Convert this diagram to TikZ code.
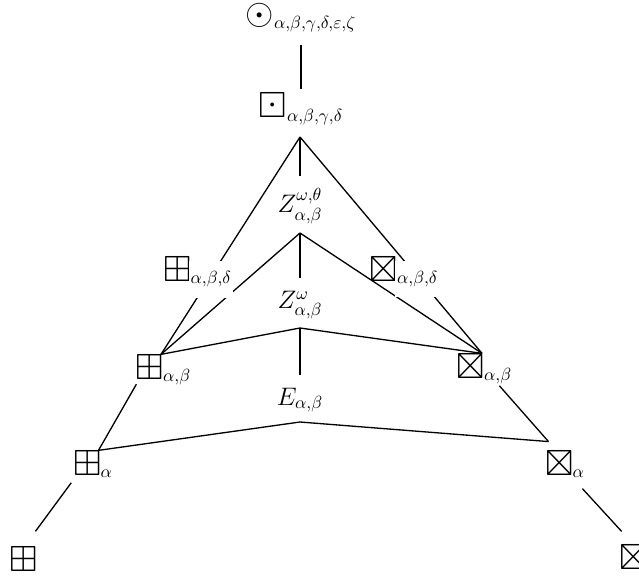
\documentclass[tikz,border=0pt]{standalone}
\usepackage{amsmath,amssymb}
\usepackage{tikz}
\usetikzlibrary{backgrounds}
\tikzset{
  sym/.style  = {font=\huge, inner ysep=0pt, inner xsep=-2pt},
  mid/.style  = {font=\Large, inner sep=2pt},
  sub/.style  = {font=\Large, inner sep=1pt, anchor=base west, yshift=-1pt},
  cut/.style  = {sub, fill=white, inner xsep=1pt, inner ysep=6pt},
  edge/.style = {draw=black, line width=0.75pt},
}
\newcommand{\idx}[1]{$\scriptstyle #1$}
\newcommand{\bigsym}[1]{\text{\huge$#1$}}

\begin{document}
\begin{tikzpicture}[x=0.02cm, y=-0.02cm]
  \useasboundingbox (0,0) rectangle (639,579);

  % top chain
  \node[mid] (ot) at (301,18)  {$\bigsym{\odot}_{\alpha,\beta,\gamma,\delta,\varepsilon,\zeta}$};
  \node[mid] (bd) at (301,109) {$\bigsym{\boxdot}_{\alpha,\beta,\gamma,\delta}$};

  % middle column
  \node[mid] (zwt) at (300,206) {$Z^{\omega,\theta}_{\alpha,\beta}$};
  \node[mid] (zw)  at (300,305) {$Z^{\omega}_{\alpha,\beta}$};
  \node[mid] (e)   at (300,400) {$E_{\alpha,\beta}$};

  \coordinate (a1) at (300,137);
  \coordinate (a2) at (300,233);
  \coordinate (a3) at (300,328);
  \coordinate (a4) at (300,422);

  % left branch
  \node[sym, label={[cut]south east:\idx{\alpha,\beta,\delta}}] (pabd) at (177.5,269.5) {$\boxplus$};
  \node[sym, label={[sub]south east:\idx{\alpha,\beta}}]        (pab)  at (150,367)     {$\boxplus$};
  \node[sym, label={[sub]south east:\idx{\alpha}}]              (pa)   at (87.5,463)    {$\boxplus$};
  \node[sym] (p0) at (24,559.5) {$\boxplus$};

  % right branch
  \node[sym, label={[cut]south east:\idx{\alpha,\beta,\delta}}] (xbd) at (384,269)   {$\boxtimes$};
  \node[sym, label={[sub]south east:\idx{\alpha,\beta}}]        (xb)  at (471,366)   {$\boxtimes$};
  \node[sym, label={[sub]south east:\idx{\alpha}}]              (xa)  at (559.5,463) {$\boxtimes$};
  \node[sym] (x0) at (633.5,557) {$\boxtimes$};

  \begin{scope}[on background layer]
    \draw[edge, shorten <=5pt] (ot) -- (bd);

    \draw[edge, shorten >=5pt] (a1) -- (zwt);
    \draw[edge, shorten >=5pt] (a2) -- (zw);
    \draw[edge, shorten >=5pt] (a3) -- (e);

    \foreach \a in {a1,a2,a3} {
      \draw[edge] (\a) -- (pab.north east);
      \draw[edge] (\a) -- (xb.north east);
    }
    \draw[edge] (a4) -- (pa.north east);
    \draw[edge] (a4) -- ([yshift=5pt]xa.north west);

    \draw[edge, shorten <=3pt] (pab.south west) -- (pa.north east);
    \draw[edge, shorten <=15pt] (xb.east) -- ([yshift=5pt]xa.north west);

    \draw[edge, shorten <=5pt, shorten >=11pt] (pa.south west) -- (p0.north);
    \draw[edge, shorten <=10pt, shorten >=10pt] (xa.south east) -- (x0.north);
  \end{scope}
\end{tikzpicture}
\end{document}
